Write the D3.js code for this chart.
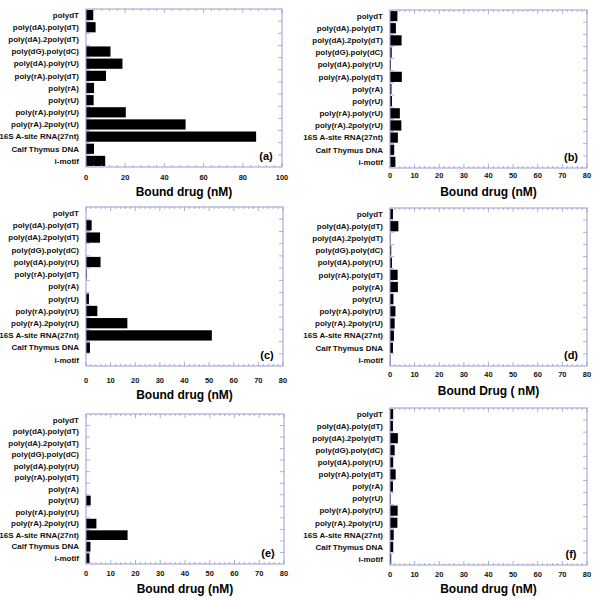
<!DOCTYPE html>
<html>
<head>
<meta charset="utf-8">
<script src="https://cdn.jsdelivr.net/npm/d3@7"></script>
<style>
  body { margin: 0; background: #fff; }
  svg { font-family: "Liberation Sans", Arial, sans-serif; font-weight: bold; }
</style>
</head>
<body>
<div id="chart"></div>
<script>
// nucleic acid targets, top to bottom
const categories = [
    "polydT", "poly(dA).poly(dT)", "poly(dA).2poly(dT)", "poly(dG).poly(dC)",
    "poly(dA).poly(rU)", "poly(rA).poly(dT)", "poly(rA)", "poly(rU)",
    "poly(rA).poly(rU)", "poly(rA).2poly(rU)", "16S A-site RNA(27nt)",
    "Calf Thymus DNA", "i-motif"
];

// bound drug (nM) per panel
const valuesA = [3.7, 4.9, 0, 12.5, 18.6, 10.2, 4.1, 3.9, 20.3, 50.8, 86.8, 4.1, 9.8];
const valuesB = [3.0, 2.4, 4.7, 0.7, 0.4, 4.8, 0.6, 0.8, 4.0, 4.6, 3.2, 1.7, 2.2];
const valuesC = [0, 2.3, 5.7, 0, 5.9, 0.3, 0, 1.2, 4.6, 16.8, 51.1, 1.6, 0];
const valuesD = [1.2, 3.4, 0.2, 0.5, 0.8, 3.1, 3.2, 1.4, 2.2, 1.9, 1.6, 1.2, 0.2];
const valuesE = [0, 0, 0, 0, 0, 0, 0, 1.9, 0, 4.2, 16.8, 1.8, 1.4];
const valuesF = [1.3, 1.2, 3.2, 1.9, 1.3, 2.3, 1.2, 0.3, 3.1, 3.0, 1.5, 1.3, 0.5];

const ticks100 = [0, 20, 40, 60, 80, 100];
const ticks80 = [0, 10, 20, 30, 40, 50, 60, 70, 80];

const panelLetters = ["(a)", "(b)", "(c)", "(d)", "(e)", "(f)"];
const axisTitles = ["Bound drug (nM)", "Bound drug (nM)", "Bound drug (nM)",
    "Bound Drug ( nM)", "Bound drug (nM)", "Bound drug (nM)"];

// where each panel sits on the page
const layout = [
    { values: valuesA, ticks: ticks100, left: 86, right: 282, top: 9, bottom: 167, tickY: 177, titleY: 192 },
    { values: valuesB, ticks: ticks80, left: 390, right: 587, top: 10, bottom: 168, tickY: 175, titleY: 192 },
    { values: valuesC, ticks: ticks80, left: 86, right: 283, top: 207, bottom: 366, tickY: 380, titleY: 395 },
    { values: valuesD, ticks: ticks80, left: 390, right: 587, top: 208, bottom: 366, tickY: 374, titleY: 391 },
    { values: valuesE, ticks: ticks80, left: 86, right: 284, top: 414, bottom: 564, tickY: 573, titleY: 589 },
    { values: valuesF, ticks: ticks80, left: 390, right: 587, top: 408, bottom: 565, tickY: 574, titleY: 589 }
];

const frameColor = "#9a9ad2";

const svg = d3.select("#chart")
    .append("svg")
    .attr("width", 600)
    .attr("height", 600);

function drawPanel(p, i) {
    const data = categories.map((c, k) => ({ name: c, value: p.values[k] }));
    const xMax = p.ticks[p.ticks.length - 1];

    const x = d3.scaleLinear()
        .domain([0, xMax])
        .range([p.left, p.right]);

    const y = d3.scaleBand()
        .domain(categories)
        .range([p.top, p.bottom])
        .paddingInner(0.16)
        .paddingOuter(0.08);

    const g = svg.append("g");

    // bars
    g.selectAll(".bar")
        .data(data)
        .enter()
        .append("rect")
        .attr("class", "bar")
        .attr("x", x(0))
        .attr("y", d => y(d.name))
        .attr("width", d => x(d.value) - x(0))
        .attr("height", y.bandwidth())
        .attr("fill", "#000");

    // minor ticks: 5 per major interval
    const step = p.ticks[1] - p.ticks[0];
    const minor = d3.range(0, xMax + 0.001, step / 5).filter(v => !p.ticks.includes(Math.round(v * 100) / 100));

    const tickLines = g.append("g")
        .attr("stroke", frameColor)
        .attr("stroke-width", 0.8);

    p.ticks.forEach(t => {
        tickLines.append("line").attr("x1", x(t)).attr("x2", x(t)).attr("y1", p.bottom).attr("y2", p.bottom - 4);
        tickLines.append("line").attr("x1", x(t)).attr("x2", x(t)).attr("y1", p.top).attr("y2", p.top + 4);
    });
    minor.forEach(t => {
        tickLines.append("line").attr("x1", x(t)).attr("x2", x(t)).attr("y1", p.bottom).attr("y2", p.bottom - 2);
        tickLines.append("line").attr("x1", x(t)).attr("x2", x(t)).attr("y1", p.top).attr("y2", p.top + 2);
    });

    // band boundary ticks on left and right sides
    const step_y = y.step();
    d3.range(1, categories.length).forEach(k => {
        const yy = y(categories[k]) - y.paddingInner() * step_y / 2;
        tickLines.append("line").attr("x1", p.right).attr("x2", p.right - 4).attr("y1", yy).attr("y2", yy);
        tickLines.append("line").attr("x1", p.left).attr("x2", p.left + 4).attr("y1", yy).attr("y2", yy);
    });

    // frame
    g.append("rect")
        .attr("x", p.left)
        .attr("y", p.top)
        .attr("width", p.right - p.left)
        .attr("height", p.bottom - p.top)
        .attr("fill", "none")
        .attr("stroke", frameColor)
        .attr("stroke-width", 1);

    // category labels
    g.selectAll(".cat")
        .data(categories)
        .enter()
        .append("text")
        .attr("class", "cat")
        .attr("x", p.left - 7)
        .attr("y", d => y(d) + y.bandwidth() / 2)
        .attr("dy", "0.35em")
        .attr("text-anchor", "end")
        .attr("font-size", 8)
        .attr("fill", "#111")
        .text(d => d);

    // tick labels
    g.selectAll(".tl")
        .data(p.ticks)
        .enter()
        .append("text")
        .attr("class", "tl")
        .attr("x", d => x(d))
        .attr("y", p.tickY)
        .attr("dy", "0.35em")
        .attr("text-anchor", "middle")
        .attr("font-size", 7.5)
        .attr("fill", "#111")
        .text(d => d);

    // axis title
    g.append("text")
        .attr("x", (p.left + p.right) / 2)
        .attr("y", p.titleY)
        .attr("dy", "0.35em")
        .attr("text-anchor", "middle")
        .attr("font-size", 12)
        .attr("fill", "#000")
        .text(axisTitles[i]);

    // panel letter
    g.append("text")
        .attr("x", p.right - 16)
        .attr("y", p.bottom - 11)
        .attr("dy", "0.35em")
        .attr("text-anchor", "middle")
        .attr("font-size", 11)
        .attr("fill", "#000")
        .text(panelLetters[i]);
}

layout.forEach(drawPanel);
</script>
</body>
</html>
